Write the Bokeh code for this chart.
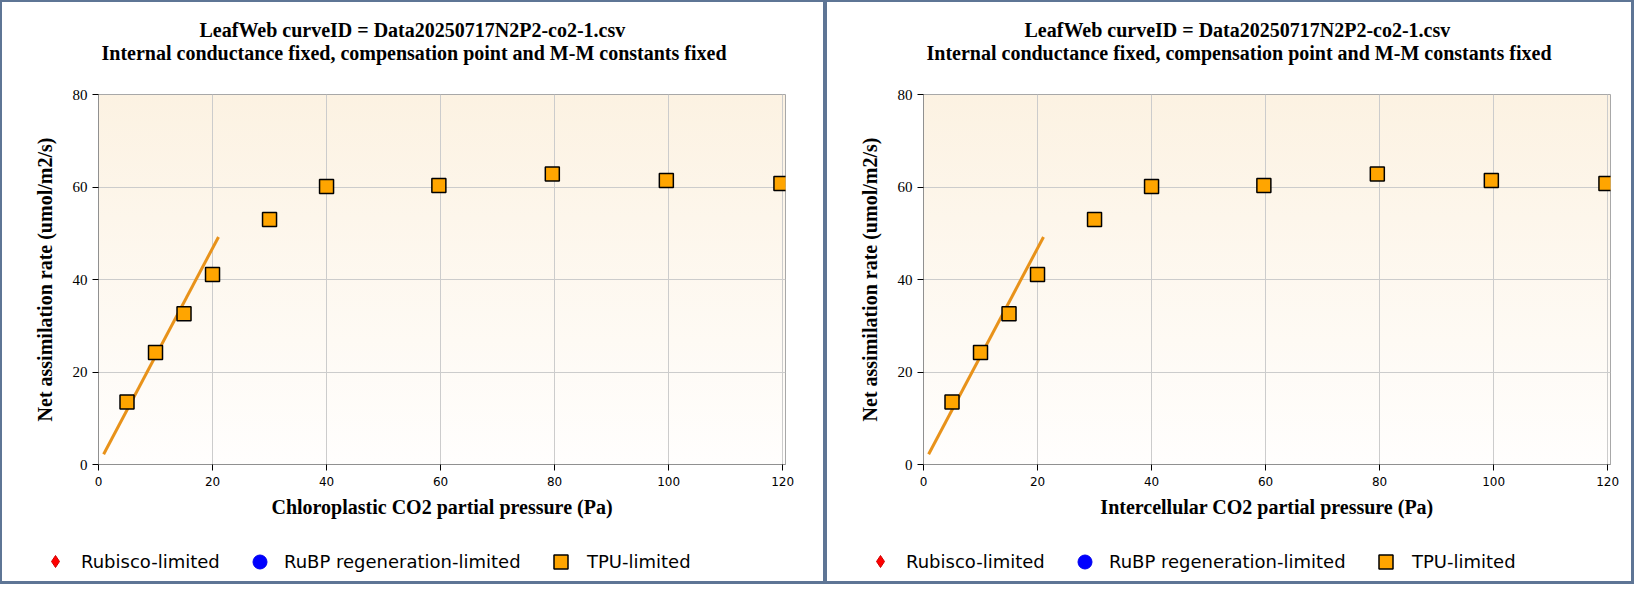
from bokeh.plotting import figure
from bokeh.models import Title, Legend, LegendItem
from bokeh.layouts import row, column
from bokeh.embed import file_html
from bokeh.resources import INLINE

NAN = float("nan")

# ---------------- data ----------------
ci_tpu = [5, 10, 15, 20, 30, 40, 59.7, 79.6, 99.6, 119.7]
an_tpu = [13.5, 24.2, 32.6, 41.1, 53.0, 60.1, 60.3, 62.8, 61.4, 60.75]
fit_x = [0.9, 21.05]
fit_y = [2.2, 49.2]
rubisco_x = []
rubisco_y = []
rubp_x = []
rubp_y = []
x_ticks = [0, 20, 40, 60, 80, 100, 120]
y_ticks = [0, 20, 40, 60, 80]
title_line1 = "LeafWeb curveID = Data20250717N2P2-co2-1.csv"
title_line2 = "Internal conductance fixed, compensation point and M-M constants fixed"
x_labels = ["Chloroplastic CO2 partial pressure (Pa)", "Intercellular CO2 partial pressure (Pa)"]
y_label = "Net assimilation rate (umol/m2/s)"
legend_labels = ["Rubisco-limited", "RuBP regeneration-limited", "TPU-limited"]

H_MAIN, H_LEG = 530, 54
FRAME_L = 98
FRAME_W, FRAME_H = 687, 370
TOP = 94
C = "#5e7595"
SERIF = "Liberation Serif"
SANS = "DejaVu Sans"

STYLE_RUB = dict(marker="diamond", size=12, fill_color="#ff0000", line_color="#d00000")
STYLE_RUBP = dict(marker="circle", size=14, fill_color="#0000ff", line_color="#0000ee")
STYLE_TPU = dict(marker="square", size=14, fill_color="#ffa500", line_color="#000000", line_width=1.5)


def no_align(fig):
    try:
        fig.frame_align = False
    except (AttributeError, ValueError):
        pass


def make_title(text, offset, standoff):
    kw = dict(text=text, align="left", offset=offset, text_font=SERIF,
              text_font_size="20px", text_font_style="bold", text_color="#000000")
    try:
        return Title(standoff=standoff, **kw)
    except ValueError:
        return Title(standoff=0, **kw)


def make_main(xlabel, width, shadow):
    p = figure(width=width, height=H_MAIN, x_range=(0, 120.5), y_range=(0, 80),
               output_backend="svg", toolbar_location=None,
               min_border_left=FRAME_L, min_border_right=width - FRAME_L - FRAME_W,
               min_border_top=TOP, min_border_bottom=H_MAIN - TOP - FRAME_H)
    no_align(p)
    p.background_fill_alpha = 0
    p.border_fill_alpha = 0
    p.outline_line_color = "#a8a8a8"
    p.styles = {
        "background-image": "linear-gradient(to bottom, #fcf2e2, #fffefd)",
        "background-position": f"{FRAME_L}px {TOP}px",
        "background-size": f"{FRAME_W}px {FRAME_H}px",
        "background-repeat": "no-repeat",
        "background-color": "#ffffff",
        "box-shadow": shadow,
    }

    # titles: spacer closest to frame, then line 2, then line 1
    p.add_layout(Title(text=" ", text_font_size="1px", standoff=28), "above")
    p.add_layout(make_title(title_line2, 3, 0), "above")
    p.add_layout(make_title(title_line1, 101, -2), "above")

    for ax in (p.xaxis[0], p.yaxis[0]):
        ax.axis_label_text_font = SERIF
        ax.axis_label_text_font_size = "20px"
        ax.axis_label_text_font_style = "bold"
        ax.axis_label_text_color = "#000000"
        ax.axis_line_color = "#909090"
        ax.major_tick_line_color = "#000000"
        ax.major_tick_out = 6
        ax.major_tick_in = 0
        ax.minor_tick_line_color = None
        ax.major_label_text_color = "#000000"
        ax.major_label_standoff = 5
    p.xaxis.ticker = x_ticks
    p.yaxis.ticker = y_ticks
    p.xaxis.axis_label = xlabel
    p.yaxis.axis_label = y_label
    p.xaxis.major_label_text_font = SANS
    p.xaxis.major_label_text_font_size = "12px"
    p.xaxis.major_label_standoff = 6
    p.xaxis.axis_label_standoff = 7
    p.yaxis.major_label_text_font = SERIF
    p.yaxis.major_label_text_font_size = "15px"
    p.yaxis.major_label_standoff = 5
    p.yaxis.axis_label_standoff = 14
    p.xgrid.grid_line_color = "#cccccc"
    p.ygrid.grid_line_color = "#cccccc"

    p.scatter(rubisco_x, rubisco_y, **STYLE_RUB)
    p.scatter(rubp_x, rubp_y, **STYLE_RUBP)
    p.line(fit_x, fit_y, line_color="#e8921a", line_width=3)
    p.scatter(ci_tpu, an_tpu, **STYLE_TPU)
    return p


def make_legend(width, shadow):
    q = figure(width=width, height=H_LEG, x_range=(0, 1), y_range=(0, 1),
               x_axis_type=None, y_axis_type=None,
               output_backend="svg", toolbar_location=None,
               min_border_left=0, min_border_right=0,
               min_border_top=0, min_border_bottom=0)
    no_align(q)
    q.background_fill_alpha = 0
    q.border_fill_alpha = 0
    q.outline_line_color = None
    q.styles = {"background-color": "#ffffff", "box-shadow": shadow}
    # legend keys: one NaN (undrawn) point each, only the key glyphs are shown
    keys = [q.scatter([NAN], [NAN], **STYLE_RUB),
            q.scatter([NAN], [NAN], **STYLE_RUBP),
            q.scatter([NAN], [NAN], **STYLE_TPU)]
    specs = [(30, 40, 11), (35, 242, 7), (35, 543, 9)]
    for key, lab, (g, lx, ls) in zip(keys, legend_labels, specs):
        lg = Legend(items=[LegendItem(label=lab, renderers=[key])],
                    location=(lx, 23 - g / 2), orientation="horizontal",
                    padding=0, margin=0, spacing=0,
                    glyph_width=g, glyph_height=g, label_height=g,
                    label_standoff=ls,
                    label_text_font=SANS, label_text_font_size="18px",
                    label_text_color="#000000",
                    border_line_color=None, background_fill_alpha=0)
        q.add_layout(lg)
    return q


left = column(
    make_main(x_labels[0], 825, f"inset 2px 2px 0 0 {C}, inset -2px 0 0 0 {C}"),
    make_legend(825, f"inset 2px 0 0 0 {C}, inset -2px -3px 0 0 {C}"),
    spacing=0)
right = column(
    make_main(x_labels[1], 809, f"inset 2px 2px 0 0 {C}, inset -3px 0 0 0 {C}"),
    make_legend(809, f"inset 2px 0 0 0 {C}, inset -3px -3px 0 0 {C}"),
    spacing=0)

layout = row(left, right, spacing=0)
open("out.html", "w").write(file_html(layout, INLINE, title="LeafWeb"))
